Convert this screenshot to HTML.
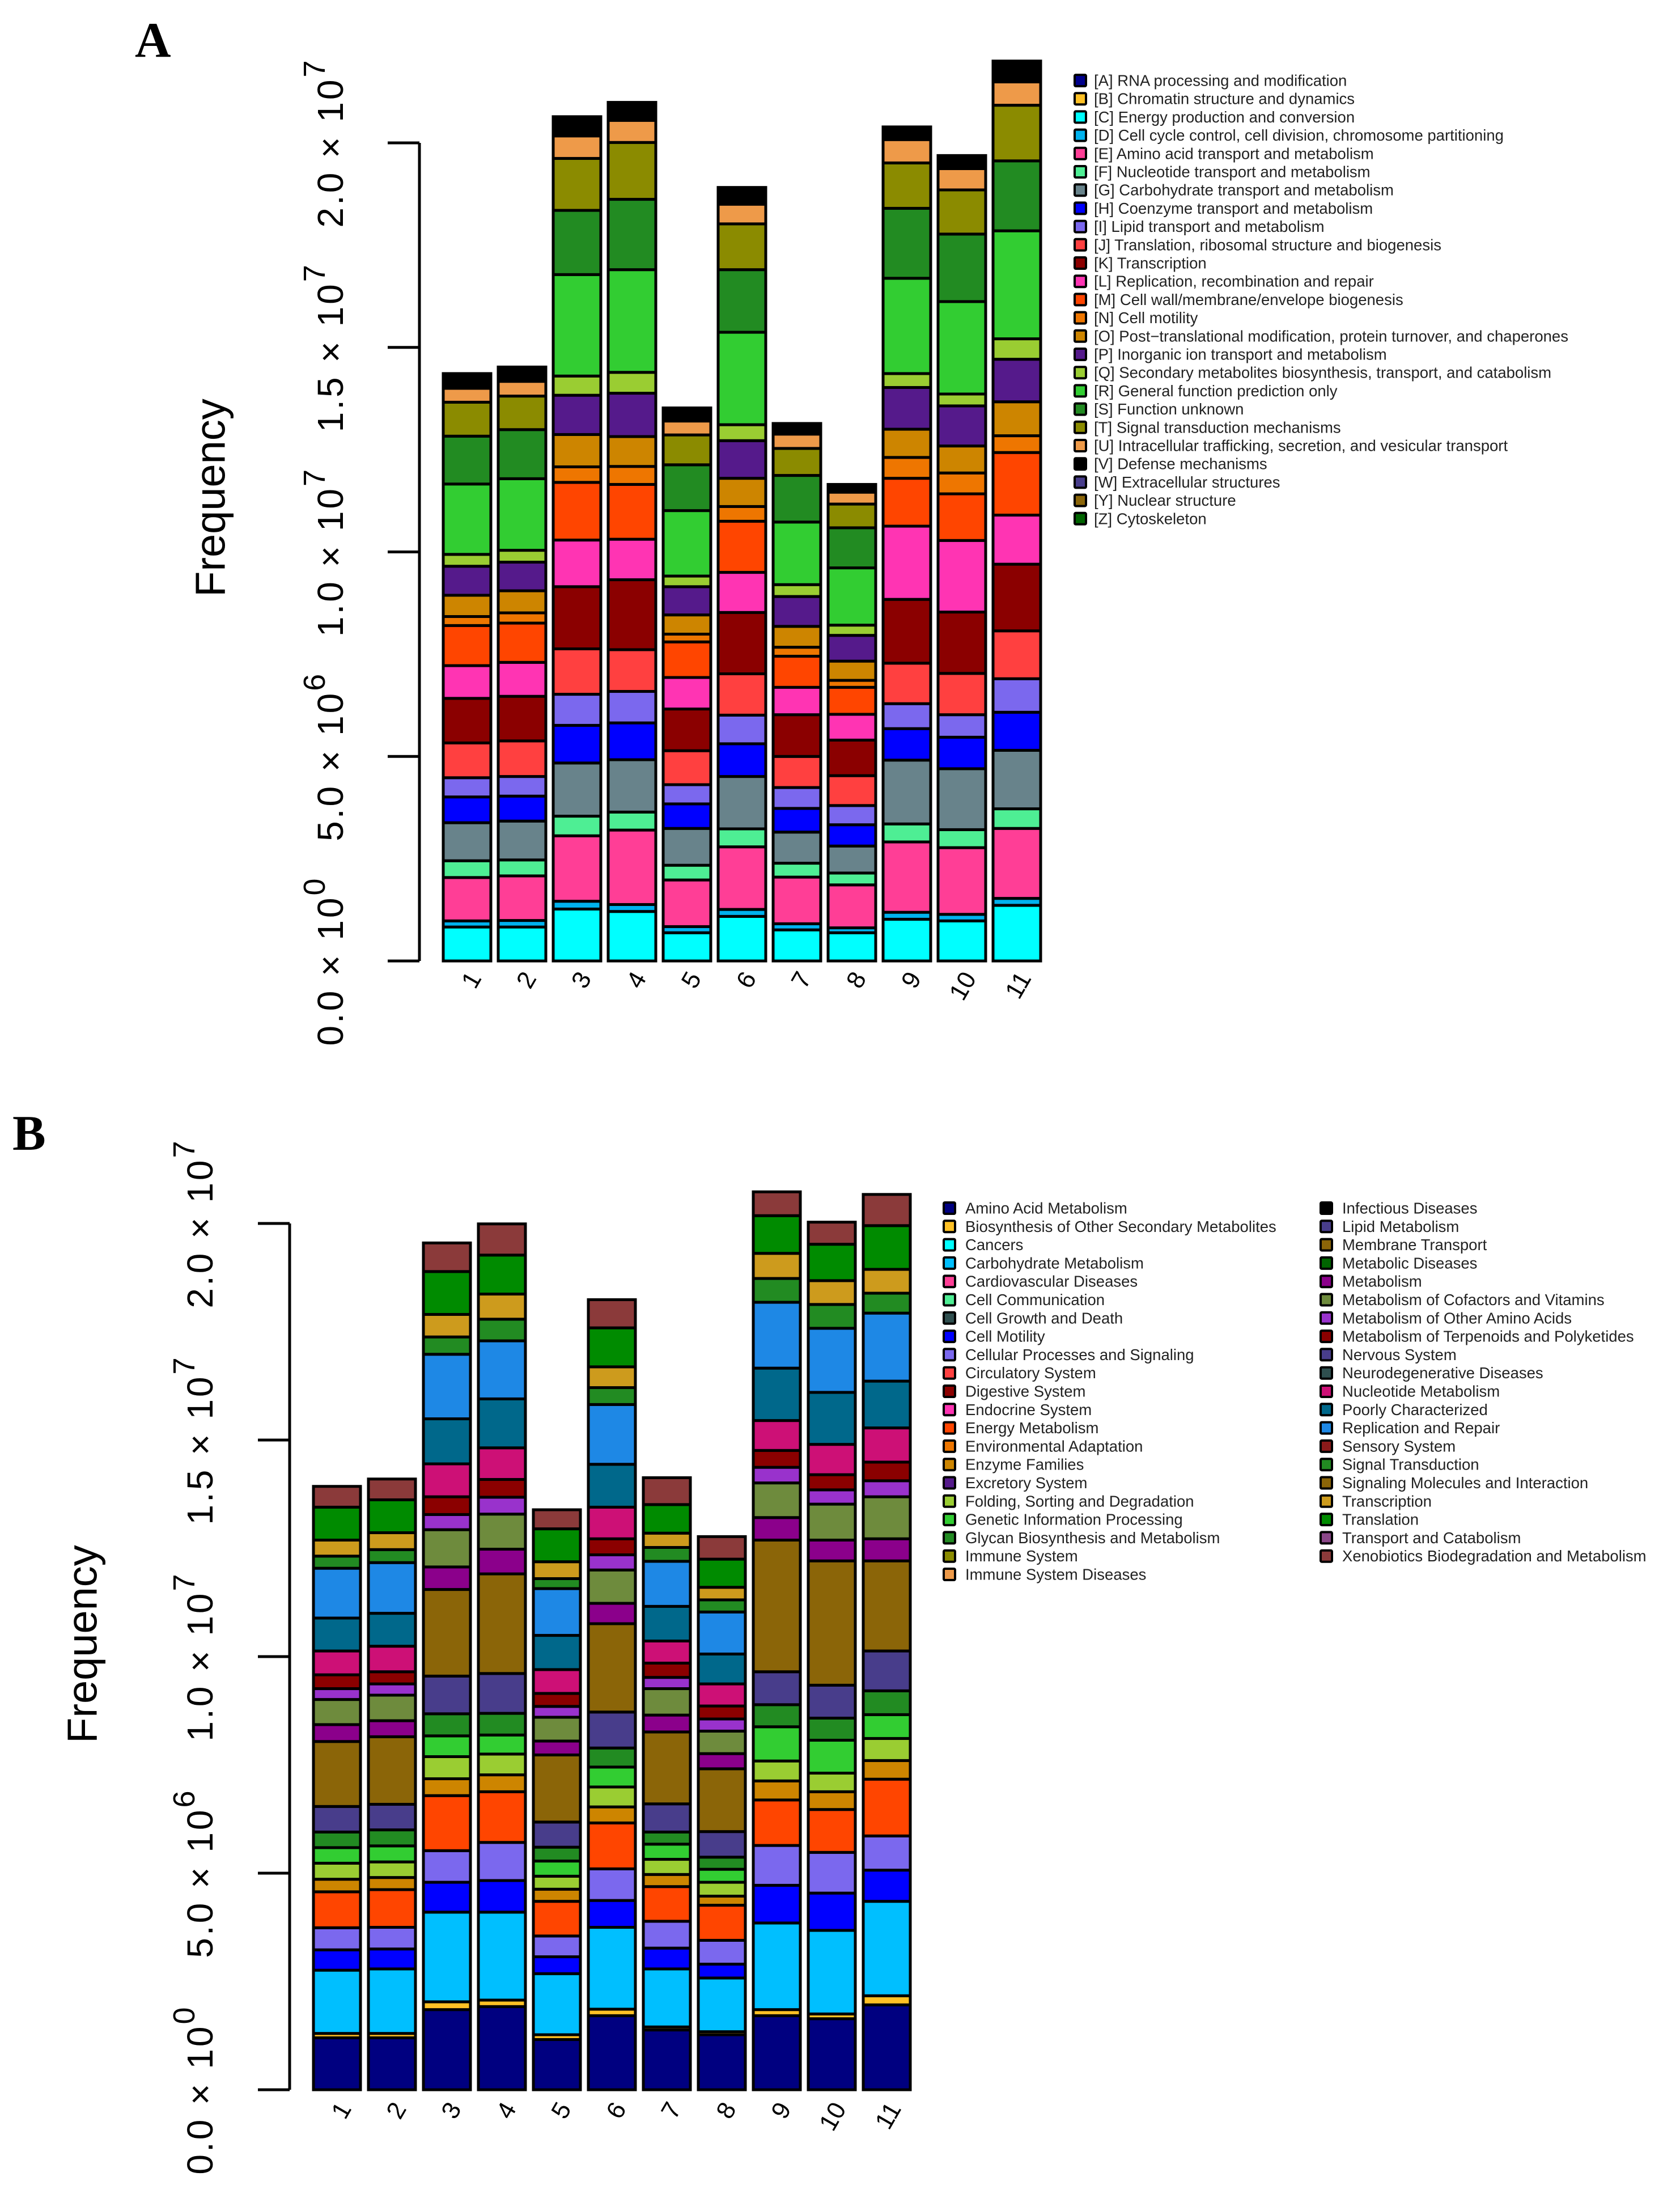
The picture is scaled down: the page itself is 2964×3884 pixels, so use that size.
<!DOCTYPE html>
<html><head><meta charset="utf-8"><style>
html,body{margin:0;padding:0;background:#fff;}
svg{display:block;font-family:"Liberation Sans",sans-serif;}
</style></head><body>
<svg id="fig" xmlns="http://www.w3.org/2000/svg" width="2964" height="3884" viewBox="0 0 2964 3884">
<rect width="2964" height="3884" fill="#fff"/>
<text x="238" y="100" font-family="Liberation Serif, serif" font-weight="bold" font-size="88">A</text>
<text x="22" y="2028" font-family="Liberation Serif, serif" font-weight="bold" font-size="88">B</text>
<g id="pa"></g>
<g id="pb"></g>
</svg>
<script>
const samples = ["1","2","3","4","5","6","7","8","9","10","11"];
const yTicks = [0, 5, 10, 15, 20];
const yTickLabels = [["0.0","0"],["5.0","6"],["1.0","7"],["1.5","7"],["2.0","7"]];

// Panel A: COG categories (values in millions)
const cogNames = ["[A] RNA processing and modification","[B] Chromatin structure and dynamics","[C] Energy production and conversion","[D] Cell cycle control, cell division, chromosome partitioning","[E] Amino acid transport and metabolism","[F] Nucleotide transport and metabolism","[G] Carbohydrate transport and metabolism","[H] Coenzyme transport and metabolism","[I] Lipid transport and metabolism","[J] Translation, ribosomal structure and biogenesis","[K] Transcription","[L] Replication, recombination and repair","[M] Cell wall/membrane/envelope biogenesis","[N] Cell motility","[O] Post\u2212translational modification, protein turnover, and chaperones","[P] Inorganic ion transport and metabolism","[Q] Secondary metabolites biosynthesis, transport, and catabolism","[R] General function prediction only","[S] Function unknown","[T] Signal transduction mechanisms","[U] Intracellular trafficking, secretion, and vesicular transport","[V] Defense mechanisms","[W] Extracellular structures","[Y] Nuclear structure","[Z] Cytoskeleton"];
const cogColors = ["#00008B","#FFC125","#00FFFF","#00B2EE","#FF3E96","#4EEE94","#68838B","#0000FF","#7B68EE","#FF4040","#8B0000","#FF34B3","#FF4500","#EE7600","#CD8500","#551A8B","#9ACD32","#32CD32","#228B22","#8B8B00","#EE9A49","#000000","#483D8B","#8B6508","#006400"];
const cogA = [0,0,0,0,0,0,0,0,0,0,0];
const cogB = [0,0,0,0,0,0,0,0,0,0,0];
const cogC = [0.83,0.83,1.27,1.21,0.69,1.09,0.76,0.69,1.02,0.98,1.36];
const cogD = [0.15,0.16,0.19,0.17,0.15,0.17,0.15,0.12,0.17,0.16,0.17];
const cogE = [1.06,1.09,1.60,1.82,1.14,1.53,1.14,1.05,1.72,1.63,1.71];
const cogF = [0.41,0.39,0.48,0.44,0.36,0.44,0.34,0.29,0.44,0.44,0.48];
const cogG = [0.93,0.95,1.30,1.28,0.90,1.28,0.76,0.66,1.56,1.49,1.43];
const cogH = [0.63,0.61,0.92,0.90,0.60,0.80,0.58,0.52,0.77,0.77,0.93];
const cogI = [0.47,0.48,0.76,0.77,0.47,0.70,0.51,0.47,0.61,0.55,0.82];
const cogJ = [0.85,0.87,1.11,1.02,0.83,1.01,0.76,0.73,0.99,1.01,1.17];
const cogK = [1.09,1.09,1.52,1.71,1.02,1.50,1.02,0.87,1.56,1.50,1.63];
const cogL = [0.80,0.83,1.14,0.99,0.77,0.98,0.67,0.63,1.79,1.75,1.20];
const cogM = [0.98,0.96,1.41,1.34,0.87,1.25,0.76,0.66,1.17,1.14,1.53];
const cogN = [0.22,0.25,0.38,0.44,0.19,0.36,0.22,0.17,0.51,0.51,0.41];
const cogO = [0.52,0.54,0.79,0.73,0.47,0.69,0.51,0.47,0.69,0.66,0.83];
const cogP = [0.71,0.70,0.96,1.06,0.69,0.92,0.73,0.63,1.02,0.98,1.04];
const cogQ = [0.29,0.29,0.47,0.51,0.26,0.39,0.29,0.25,0.34,0.29,0.50];
const cogR = [1.72,1.75,2.48,2.51,1.60,2.26,1.53,1.40,2.33,2.26,2.64];
const cogS = [1.17,1.20,1.57,1.72,1.12,1.53,1.14,0.98,1.71,1.65,1.71];
const cogT = [0.83,0.82,1.27,1.39,0.73,1.12,0.66,0.58,1.11,1.08,1.36];
const cogU = [0.34,0.36,0.55,0.54,0.34,0.48,0.35,0.29,0.57,0.52,0.57];
const cogV = [0.36,0.35,0.47,0.44,0.32,0.41,0.26,0.19,0.31,0.32,0.51];
const cogW = [0,0,0,0,0,0,0,0,0,0,0];
const cogY = [0,0,0,0,0,0,0,0,0,0,0];
const cogZ = [0,0,0,0,0,0,0,0,0,0,0];
const cogSeries = [cogA,cogB,cogC,cogD,cogE,cogF,cogG,cogH,cogI,cogJ,cogK,cogL,cogM,cogN,cogO,cogP,cogQ,cogR,cogS,cogT,cogU,cogV,cogW,cogY,cogZ];

// Panel B: KEGG categories (values in millions)
const keggNames = ["Amino Acid Metabolism","Biosynthesis of Other Secondary Metabolites","Cancers","Carbohydrate Metabolism","Cardiovascular Diseases","Cell Communication","Cell Growth and Death","Cell Motility","Cellular Processes and Signaling","Circulatory System","Digestive System","Endocrine System","Energy Metabolism","Environmental Adaptation","Enzyme Families","Excretory System","Folding, Sorting and Degradation","Genetic Information Processing","Glycan Biosynthesis and Metabolism","Immune System","Immune System Diseases","Infectious Diseases","Lipid Metabolism","Membrane Transport","Metabolic Diseases","Metabolism","Metabolism of Cofactors and Vitamins","Metabolism of Other Amino Acids","Metabolism of Terpenoids and Polyketides","Nervous System","Neurodegenerative Diseases","Nucleotide Metabolism","Poorly Characterized","Replication and Repair","Sensory System","Signal Transduction","Signaling Molecules and Interaction","Transcription","Translation","Transport and Catabolism","Xenobiotics Biodegradation and Metabolism"];
const keggColors = ["#000080","#FFC125","#00FFFF","#00BFFF","#FF3E96","#4EEE94","#2F4F4F","#0000FF","#7B68EE","#FF4040","#8B0000","#FF34B3","#FF4500","#EE7600","#CD8500","#551A8B","#9ACD32","#32CD32","#228B22","#8B8B00","#EE9A49","#000000","#483D8B","#8B6508","#006400","#8B008B","#6E8B3D","#9932CC","#8B0000","#483D8B","#2F4F4F","#CD1076","#00688B","#1E88E5","#8B1A1A","#228B22","#8B6508","#CD9B1D","#008B00","#8B4789","#8B3A3A"];
const kAmino = [1.20,1.20,1.85,1.92,1.16,1.71,1.38,1.27,1.71,1.64,1.96];
const kBiosyn = [0.10,0.10,0.18,0.15,0.11,0.15,0.07,0.07,0.14,0.11,0.21];
const kCarb = [1.46,1.49,2.07,2.03,1.41,1.89,1.34,1.24,2.00,1.93,2.18];
const kMotility = [0.47,0.46,0.69,0.73,0.39,0.62,0.48,0.32,0.87,0.86,0.72];
const kCellular = [0.51,0.50,0.73,0.88,0.48,0.73,0.62,0.55,0.92,0.94,0.79];
const kEnergy = [0.83,0.87,1.27,1.17,0.80,1.06,0.80,0.81,1.05,0.99,1.31];
const kEnzyme = [0.29,0.28,0.39,0.39,0.28,0.37,0.28,0.21,0.44,0.41,0.43];
const kFolding = [0.37,0.36,0.51,0.48,0.30,0.46,0.35,0.32,0.46,0.43,0.51];
const kGenetic = [0.36,0.37,0.48,0.44,0.35,0.46,0.35,0.30,0.79,0.76,0.55];
const kGlycan = [0.36,0.37,0.51,0.50,0.32,0.44,0.28,0.28,0.51,0.51,0.55];
const kLipid = [0.59,0.59,0.87,0.92,0.58,0.83,0.65,0.59,0.76,0.76,0.92];
const kMembrane = [1.50,1.56,2.00,2.30,1.55,2.04,1.66,1.45,3.04,2.87,2.08];
const kMetabolism = [0.39,0.37,0.52,0.57,0.32,0.47,0.39,0.35,0.52,0.48,0.51];
const kCofactors = [0.58,0.59,0.86,0.81,0.55,0.77,0.61,0.52,0.80,0.83,0.97];
const kOtherAA = [0.25,0.26,0.35,0.39,0.25,0.35,0.26,0.28,0.36,0.33,0.37];
const kTerpenoids = [0.32,0.28,0.41,0.41,0.30,0.37,0.33,0.30,0.39,0.35,0.43];
const kNucleotide = [0.55,0.59,0.76,0.73,0.55,0.73,0.51,0.51,0.69,0.70,0.79];
const kPoorly = [0.76,0.76,1.04,1.13,0.79,0.99,0.80,0.69,1.21,1.20,1.08];
const kReplication = [1.15,1.17,1.49,1.34,1.08,1.38,1.04,0.97,1.52,1.48,1.57];
const kSignal = [0.28,0.30,0.40,0.50,0.23,0.39,0.32,0.28,0.55,0.55,0.46];
const kTranscription = [0.37,0.39,0.52,0.58,0.39,0.48,0.33,0.29,0.58,0.55,0.55];
const kTranslation = [0.76,0.76,0.99,0.90,0.76,0.90,0.66,0.65,0.87,0.84,1.01];
const kXeno = [0.48,0.48,0.66,0.72,0.44,0.65,0.62,0.52,0.55,0.51,0.72];
const keggSeriesIdx = [0,1,3,7,8,12,14,16,17,18,22,23,25,26,27,28,31,32,33,35,37,38,40];
const keggSeries = [kAmino,kBiosyn,kCarb,kMotility,kCellular,kEnergy,kEnzyme,kFolding,kGenetic,kGlycan,kLipid,kMembrane,kMetabolism,kCofactors,kOtherAA,kTerpenoids,kNucleotide,kPoorly,kReplication,kSignal,kTranscription,kTranslation,kXeno];

const NS = "http://www.w3.org/2000/svg";
function mk(parent, tag, attrs, text) {
  const e = document.createElementNS(NS, tag);
  for (const k in attrs) e.setAttribute(k, attrs[k]);
  if (text !== undefined) e.textContent = text;
  parent.appendChild(e);
  return e;
}

function drawPanel(g, cfg, seriesList, colorOf, nameOf) {
  const yScale = v => cfg.y0 - v * (cfg.y0 - cfg.y20) / 20;
  const xLeft = i => cfg.x0 + i * cfg.pitch;
  const axis = mk(g, "line", {x1: cfg.axisX, x2: cfg.axisX, y1: yScale(20), y2: yScale(0), stroke: "#000", "stroke-width": 5});
  
  
  yTicks.forEach((t, k) => {
    const y = yScale(t);
    const tk = mk(g, "line", {x1: cfg.tickX, x2: cfg.axisX, y1: y, y2: y, stroke: "#000", "stroke-width": 5});
    
    
    const tx = mk(g, "text", {transform: `translate(${cfg.labX},${y}) rotate(-90)`, "text-anchor": "middle", "font-size": 64, "dominant-baseline": "central", "letter-spacing": 4});
    
    
    const t1 = mk(tx, "tspan", {}, yTickLabels[k][0] + " \u00d7 10");
    const t2 = mk(tx, "tspan", {dy: -28, "font-size": 54}, yTickLabels[k][1]);
  });
  const yt = mk(g, "text", {transform: `translate(${cfg.titleX},${cfg.titleY}) rotate(-90)`, "text-anchor": "middle", "font-size": 74, "dominant-baseline": "central"}, "Frequency");
  
  
  samples.forEach((s, i) => {
    let cum = 0;
    const x = xLeft(i);
    seriesList.forEach((arr, si) => {
      const v = arr[i];
      if (!(v > 0)) return;
      const yTop = yScale(cum + v), yBot = yScale(cum);
      const r = mk(g, "rect", {x: x, y: yTop, width: cfg.bw, height: yBot - yTop, fill: colorOf(si), stroke: "#000", "stroke-width": 5});
      
      
      const tt = mk(r, "title", {}, nameOf(si) + ": " + v);
      cum += v;
    });
    const lab = mk(g, "text", {transform: `translate(${x + cfg.bw / 2 + 14},${cfg.xlabY}) rotate(-60)`, "text-anchor": "end", "font-size": 44, "dominant-baseline": "central"}, s);
    
    
  });
}

drawPanel(document.getElementById("pa"),
  {p: "a", y0: 1695, y20: 252, axisX: 740, tickX: 684, labX: 583, titleX: 371, titleY: 878, x0: 782, pitch: 97, bw: 84, xlabY: 1718},
  cogSeries, si => cogColors[si], si => cogNames[si]);
drawPanel(document.getElementById("pb"),
  {p: "b", y0: 3686, y20: 2158, axisX: 511, tickX: 455, labX: 353, titleX: 145, titleY: 2900, x0: 553, pitch: 97, bw: 83, xlabY: 3712},
  keggSeries, si => keggColors[keggSeriesIdx[si]], si => keggNames[keggSeriesIdx[si]]);

// Legend A
const la = document.getElementById("pa");
cogNames.forEach((n, i) => {
  const y = 142 + i * 32.2;
  const sq = mk(la, "rect", {x: 1896, y: y - 10, width: 20, height: 20, fill: cogColors[i], stroke: "#000", "stroke-width": 4, rx: 2});
  
  
  const t = mk(la, "text", {x: 1930, y: y, "font-size": 27.5, "dominant-baseline": "central", fill: "#222"}, n);
  
  
});
// Legend B
const lb = document.getElementById("pb");
keggNames.forEach((n, i) => {
  const col = i < 21 ? 0 : 1;
  const row = i < 21 ? i : i - 21;
  const y = 2131 + row * 32.3;
  const sx = col ? 2330 : 1665;
  const sq = mk(lb, "rect", {x: sx, y: y - 10, width: 20, height: 20, fill: keggColors[i], stroke: "#000", "stroke-width": 4, rx: 2});
  
  
  const t = mk(lb, "text", {x: sx + 38, y: y, "font-size": 27.5, "dominant-baseline": "central", fill: "#222"}, n);
  
  
});
</script>
</body></html>
